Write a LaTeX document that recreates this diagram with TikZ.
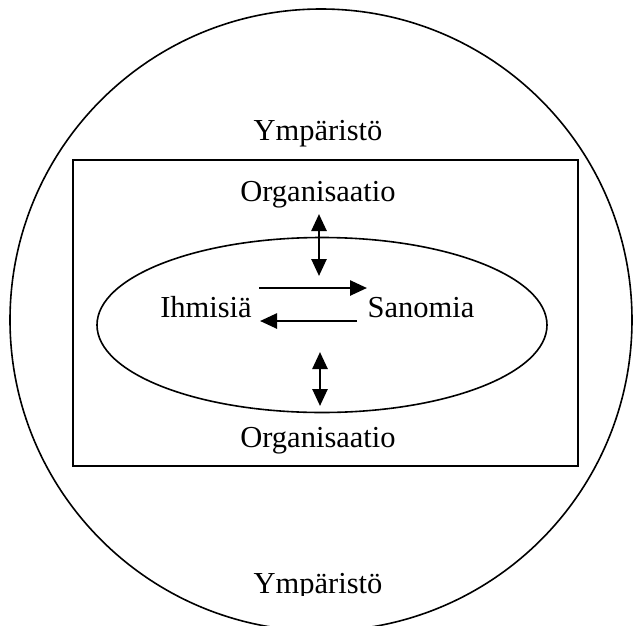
\documentclass[tikz,border=0pt]{standalone}
\usepackage{fontspec}
\setmainfont{Liberation Serif}
\usetikzlibrary{arrows.meta,shapes.geometric}
\begin{document}
\begin{tikzpicture}[x=1pt,y=-1pt,
  label/.style={inner sep=0pt,font=\fontsize{30.5}{34}\selectfont},
  frame/.style={draw=black,line width=1.6pt},
  flow/.style={line width=2.6pt,-{Triangle[length=17pt,width=15pt]}},
  both/.style={line width=2.6pt,{Triangle[length=17pt,width=15pt]}-{Triangle[length=17pt,width=15pt]}}]
  \useasboundingbox (0,0) rectangle (633,625);
  \begin{scope}
    \clip (0,0) rectangle (633,625);
    % environment circle
    \draw[frame] (321,320) circle[radius=311];
  \end{scope}
  % organisation box and ellipse of people and messages
  \draw[frame] (73,160) rectangle (578,466);
  \node[frame,ellipse,minimum width=450,minimum height=175,inner sep=0pt] (core) at (322,325) {};
  % labels
  \node[label,anchor=base] (envTop) at (318,140) {Ympäristö};
  \node[label,anchor=base] (orgTop) at (318,201) {Organisaatio};
  \node[label,anchor=base] (orgBot) at (318,447) {Organisaatio};
  \begin{scope}
    \clip (0,0) rectangle (633,595);
    \node[label,anchor=base] (envBot) at (318,593) {Ympäristö};
  \end{scope}
  \node[label,anchor=base] (ppl) at (206,317) {Ihmisiä};
  \node[label,anchor=base] (msg) at (421,317) {Sanomia};
  % message flows
  \coordinate (r1) at (259,288);
  \coordinate (r2) at (367,288);
  \coordinate (l1) at (357,321);
  \coordinate (l2) at (260,321);
  \draw[flow] (r1) -- (r2);
  \draw[flow] (l1) -- (l2);
  % exchange with the organisation
  \coordinate (t1) at (319,214);
  \coordinate (t2) at (319,276);
  \coordinate (b1) at (320,352);
  \coordinate (b2) at (320,406);
  \draw[both] (t1) -- (t2);
  \draw[both] (b1) -- (b2);
\end{tikzpicture}
\end{document}
